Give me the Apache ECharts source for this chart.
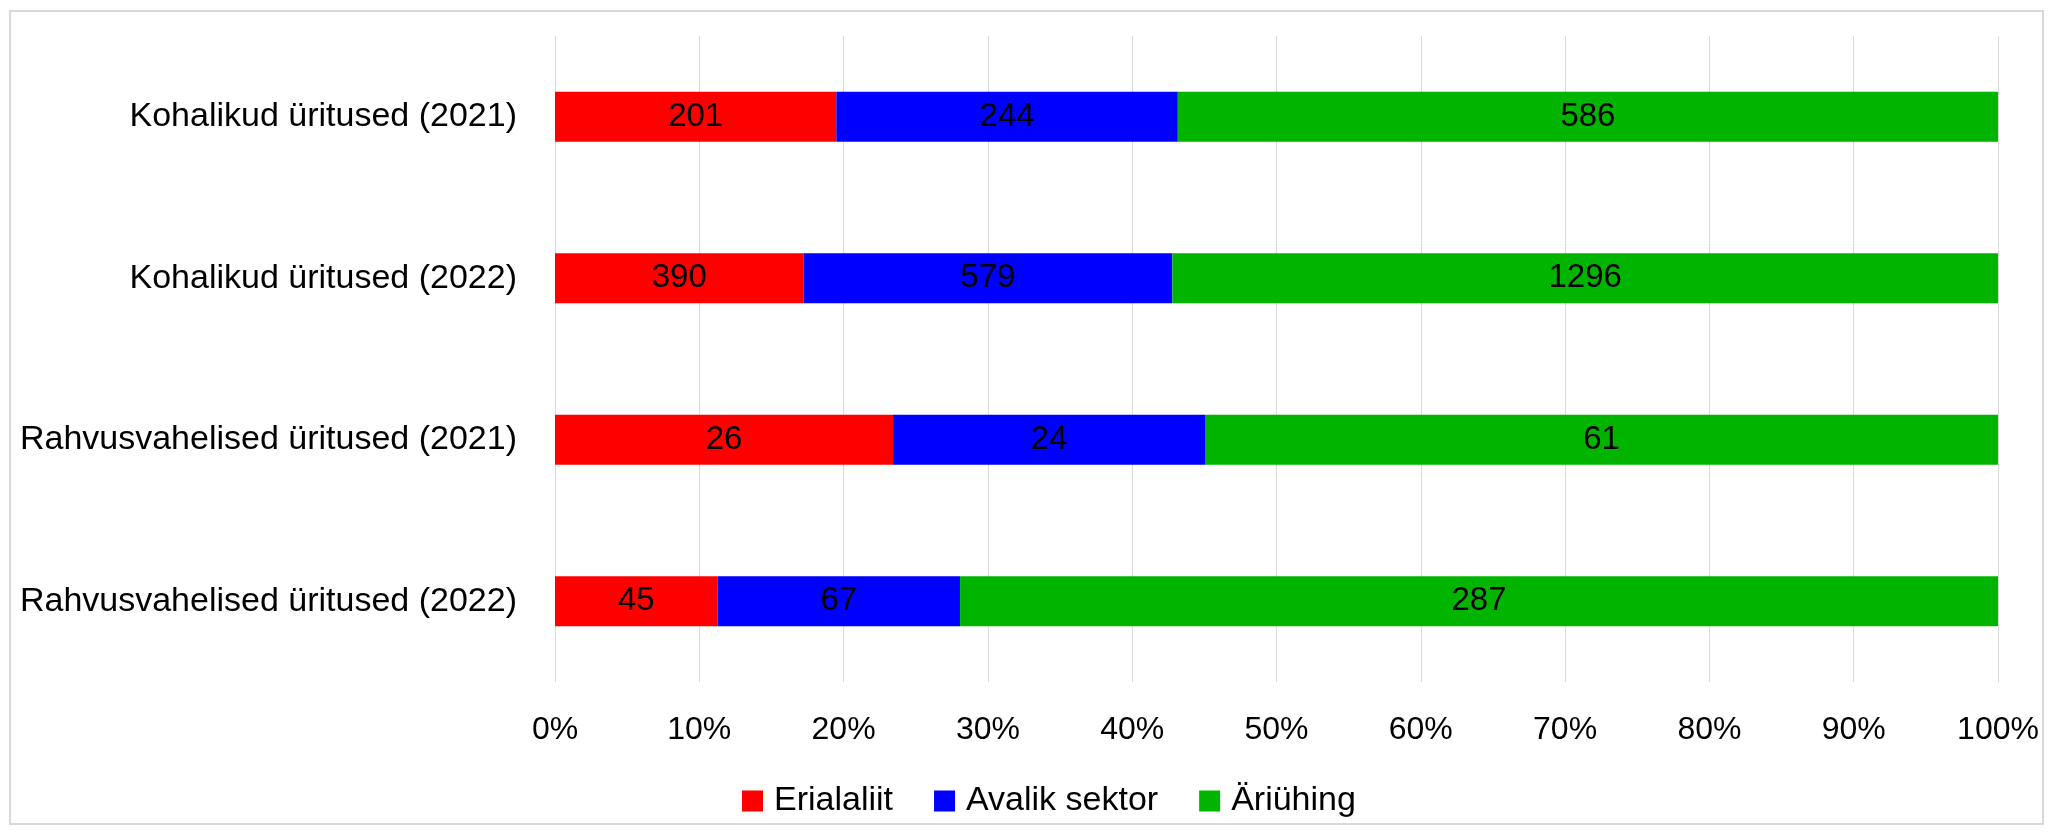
<!DOCTYPE html>
<html>
<head>
<meta charset="utf-8">
<script src="https://cdn.jsdelivr.net/npm/echarts@6/dist/echarts.min.js"></script>
<style>
html,body{margin:0;padding:0;background:#fff;}
#chart{width:2053px;height:834px;}
</style>
</head>
<body>
<div id="chart"></div>
<script>
const categories = ['Kohalikud üritused (2021)', 'Kohalikud üritused (2022)', 'Rahvusvahelised üritused (2021)', 'Rahvusvahelised üritused (2022)'];
const seriesNames = ['Erialaliit', 'Avalik sektor', 'Äriühing'];
const erialaliit = [201, 390, 26, 45];
const avalikSektor = [244, 579, 24, 67];
const ariuhing = [586, 1296, 61, 287];
const xTicks = [0, 10, 20, 30, 40, 50, 60, 70, 80, 90, 100];

const colors = ['#FF0000', '#0000FF', '#00B400'];
const FONT = 'Liberation Sans';
const raw = [erialaliit, avalikSektor, ariuhing];
const totals = categories.map((c, i) => raw.reduce((s, arr) => s + arr[i], 0));

const chart = echarts.init(document.getElementById('chart'), null, {renderer: 'canvas'});
chart.setOption({
  animation: false,
  backgroundColor: '#fff',
  textStyle: {fontFamily: FONT},
  graphic: [{
    type: 'rect',
    shape: {x: 10, y: 11, width: 2033, height: 813},
    style: {fill: 'none', stroke: '#D9D9D9', lineWidth: 2},
    silent: true, z: -1
  }],
  grid: {left: 555, right: 55, top: 36, bottom: 152, containLabel: false},
  legend: {
    data: seriesNames,
    left: 737,
    top: 779,
    icon: 'rect',
    itemWidth: 21,
    itemHeight: 21,
    itemGap: 41,
    textStyle: {fontSize: 34, color: '#000', fontFamily: FONT, padding: [0, 0, 0, 6]}
  },
  xAxis: {
    type: 'value',
    min: 0, max: 100, interval: 10,
    axisLine: {show: false},
    axisTick: {show: false},
    splitLine: {show: true, lineStyle: {color: '#D9D9D9', width: 1}},
    axisLabel: {
      fontSize: 32, color: '#000', fontFamily: FONT, margin: 32,
      formatter: v => (xTicks.indexOf(v) >= 0 ? v + '%' : '')
    }
  },
  yAxis: {
    type: 'category',
    data: categories,
    inverse: true,
    axisLine: {show: false},
    axisTick: {show: false},
    splitLine: {show: false},
    axisLabel: {fontSize: 34, color: '#000', fontFamily: FONT, margin: 38}
  },
  series: raw.map((arr, si) => ({
    name: seriesNames[si],
    type: 'bar',
    stack: 'total',
    barWidth: 50,
    itemStyle: {color: colors[si]},
    emphasis: {disabled: true},
    label: {
      show: true,
      position: 'inside',
      color: '#000',
      fontSize: 33,
      fontFamily: FONT,
      formatter: p => String(arr[p.dataIndex])
    },
    data: arr.map((v, i) => v / totals[i] * 100)
  }))
});
</script>
</body>
</html>
